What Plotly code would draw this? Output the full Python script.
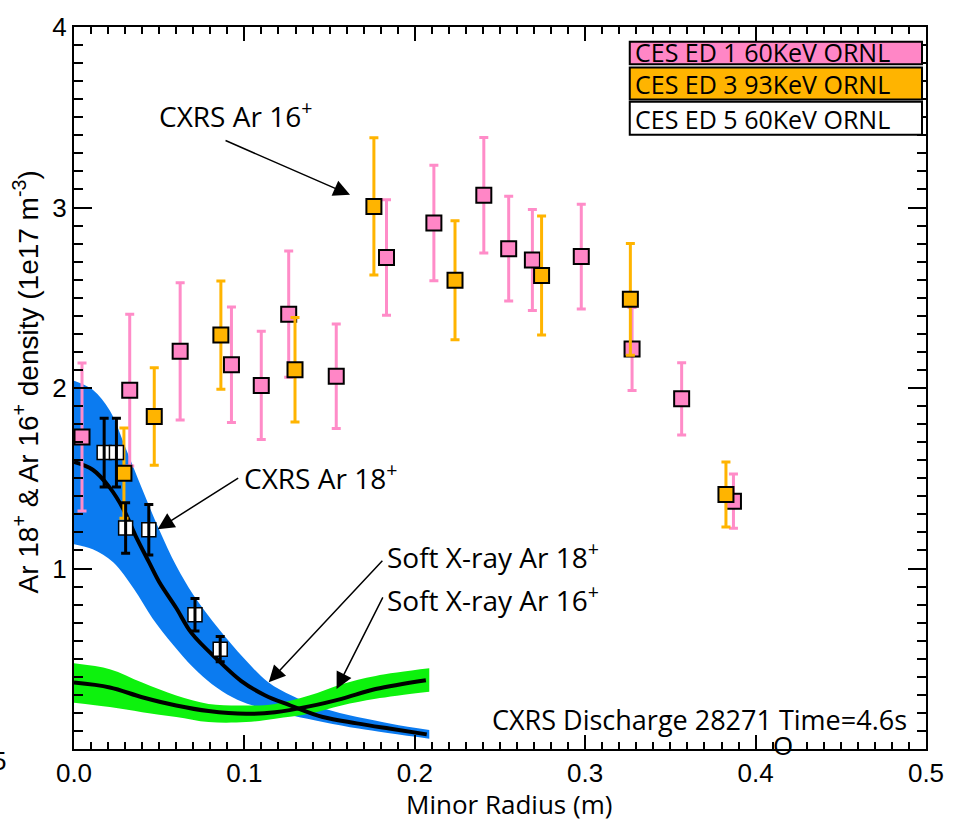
import plotly.graph_objects as go

# ---------------- data ----------------
# CES ED 1, 60 keV (ORNL) — Ar16+ density from CXRS
ed1_r = [0.0047, 0.0327, 0.0623, 0.0924, 0.1099, 0.1260, 0.1539, 0.1834, 0.2112,
         0.2405, 0.2551, 0.2690, 0.2977, 0.3275, 0.3566, 0.3870]
ed1_n = [1.729, 1.988, 2.203, 2.129, 2.014, 2.409, 2.065, 2.723, 2.914,
         3.068, 2.772, 2.709, 2.728, 2.216, 1.940, 1.373]
ed1_err = [0.41, 0.42, 0.38, 0.32, 0.30, 0.35, 0.29, 0.32, 0.32,
           0.32, 0.29, 0.28, 0.29, 0.23, 0.20, 0.15]

# CES ED 3, 93 keV (ORNL)
ed3_r = [0.0293, 0.0471, 0.0862, 0.1297, 0.1760, 0.2236, 0.2744, 0.3265, 0.3826]
ed3_n = [1.528, 1.842, 2.293, 2.101, 3.006, 2.597, 2.623, 2.491, 1.410]
ed3_err = [0.25, 0.27, 0.30, 0.29, 0.38, 0.33, 0.33, 0.31, 0.18]

# CES ED 5, 60 keV (ORNL) — Ar18+ density from CXRS
ed5_r = [0.0177, 0.0249, 0.0303, 0.0439, 0.0710, 0.0858]
ed5_n = [1.642, 1.642, 1.224, 1.215, 0.744, 0.553]
ed5_err = [0.19, 0.19, 0.14, 0.14, 0.09, 0.07]

# Soft X-ray Ar18+ profile with uncertainty band
sxr18_r = [0.0, 0.011, 0.021, 0.029, 0.036, 0.044, 0.050, 0.060, 0.069, 0.085,
           0.098, 0.112, 0.127, 0.146, 0.166, 0.185, 0.207]
sxr18_n = [1.59, 1.547, 1.448, 1.328, 1.184, 1.035, 0.925, 0.781, 0.642, 0.488,
           0.378, 0.298, 0.241, 0.177, 0.142, 0.113, 0.081]
sxr18_hi_r = [0.0, 0.011, 0.021, 0.030, 0.040, 0.050, 0.060, 0.070, 0.085, 0.100,
              0.114, 0.128, 0.147, 0.186, 0.2085]
sxr18_hi = [2.04, 1.99, 1.875, 1.675, 1.44, 1.215, 1.015, 0.855, 0.665, 0.50,
            0.37, 0.295, 0.223, 0.14, 0.105]
sxr18_lo_r = [0.0, 0.011, 0.023, 0.035, 0.046, 0.058, 0.070, 0.081, 0.093, 0.105,
              0.128, 0.167, 0.2085]
sxr18_lo = [1.135, 1.107, 1.035, 0.889, 0.725, 0.579, 0.451, 0.359, 0.287, 0.241,
            0.186, 0.113, 0.057]

# Soft X-ray Ar16+ profile with uncertainty band
sxr16_r = [0.0, 0.021, 0.040, 0.060, 0.079, 0.101, 0.118, 0.138, 0.157, 0.177, 0.2065]
sxr16_n = [0.368, 0.341, 0.287, 0.241, 0.210, 0.195, 0.204, 0.236, 0.278, 0.332, 0.381]
sxr16_hi = [0.475, 0.442, 0.368, 0.296, 0.250, 0.241, 0.250, 0.296, 0.359, 0.405, 0.447]
sxr16_lo = [0.256, 0.232, 0.204, 0.177, 0.149, 0.149, 0.168, 0.195, 0.241, 0.278, 0.317]
sxr16_band_r = [0.0, 0.021, 0.040, 0.060, 0.079, 0.101, 0.118, 0.138, 0.157, 0.177, 0.2085]

x_ticks = [0.0, 0.1, 0.2, 0.3, 0.4, 0.5]
x_ticktext = ["0.0", "0.1", "0.2", "0.3", "0.4", "0.5"]
y_ticks = [1, 2, 3, 4]
y_ticktext = ["1", "2", "3", "4"]

legend_labels = ["CES ED 1 60KeV ORNL", "CES ED 3 93KeV ORNL", "CES ED 5 60KeV ORNL"]

# ---------------- styles ----------------
PINK = "#FF86C6"
PINK_BAR = "#FF8CC8"
ORANGE = "#FFB400"
BLUE = "#0B7BF0"
GREEN = "#0DF20D"
TXT = "Open Sans"
NUM = "Liberation Sans"

fig = go.Figure()

# uncertainty bands
fig.add_trace(go.Scatter(x=sxr18_lo_r, y=sxr18_lo, mode="lines",
                         line=dict(width=0, shape="spline", color=BLUE),
                         hoverinfo="skip", showlegend=False))
fig.add_trace(go.Scatter(x=sxr18_hi_r, y=sxr18_hi, mode="lines", fill="tonexty",
                         fillcolor=BLUE, line=dict(width=0, shape="spline", color=BLUE),
                         hoverinfo="skip", showlegend=False))
fig.add_trace(go.Scatter(x=sxr16_band_r, y=sxr16_lo, mode="lines",
                         line=dict(width=0, shape="spline", color=GREEN),
                         hoverinfo="skip", showlegend=False))
fig.add_trace(go.Scatter(x=sxr16_band_r, y=sxr16_hi, mode="lines", fill="tonexty",
                         fillcolor=GREEN, line=dict(width=0, shape="spline", color=GREEN),
                         hoverinfo="skip", showlegend=False))

# central profiles
fig.add_trace(go.Scatter(x=sxr18_r, y=sxr18_n, mode="lines",
                         line=dict(width=4, shape="spline", color="black"),
                         name="Soft X-ray Ar 18+", showlegend=False))
fig.add_trace(go.Scatter(x=sxr16_r, y=sxr16_n, mode="lines",
                         line=dict(width=4, shape="spline", color="black"),
                         name="Soft X-ray Ar 16+", showlegend=False))

# CXRS points
fig.add_trace(go.Scatter(
    x=ed1_r, y=ed1_n, mode="markers", name=legend_labels[0], showlegend=False,
    marker=dict(symbol="square", size=15, color=PINK, line=dict(color="black", width=2)),
    error_y=dict(type="data", array=ed1_err, color=PINK_BAR, thickness=3, width=4.5)))
fig.add_trace(go.Scatter(
    x=ed3_r, y=ed3_n, mode="markers", name=legend_labels[1], showlegend=False,
    marker=dict(symbol="square", size=15, color=ORANGE, line=dict(color="black", width=2)),
    error_y=dict(type="data", array=ed3_err, color=ORANGE, thickness=3, width=4.5)))
fig.add_trace(go.Scatter(
    x=ed5_r, y=ed5_n, mode="markers", name=legend_labels[2], showlegend=False,
    marker=dict(symbol="square", size=14, color="white", line=dict(color="black", width=1.5))))
# ED 5 error bars are drawn over their markers
fig.add_trace(go.Scatter(
    x=ed5_r, y=ed5_n, mode="markers", showlegend=False, hoverinfo="skip",
    marker=dict(size=1, color="rgba(0,0,0,0)"),
    error_y=dict(type="data", array=ed5_err, color="black", thickness=3, width=4.5)))

# empty trace that carries the top/right tick axes
fig.add_trace(go.Scatter(x=[None], y=[None], xaxis="x2", yaxis="y2",
                         mode="markers", showlegend=False, hoverinfo="skip"))

# ---------------- axes ----------------
base = dict(showgrid=False, zeroline=False, ticks="inside", tickcolor="black", tickwidth=2)
x_minor = dict(ticks="inside", dtick=0.01, tick0=0, ticklen=7, tickwidth=1.5,
               tickcolor="black", showgrid=False)
y_minor = dict(ticks="inside", dtick=0.1, tick0=0, ticklen=9, tickwidth=1.5,
               tickcolor="black", showgrid=False)

fig.update_layout(
    xaxis=dict(range=[0, 0.5], tickmode="array", tickvals=x_ticks, ticktext=x_ticktext,
               ticklen=14, minor=x_minor, showline=True, linewidth=2, linecolor="black",
               mirror=True, tickfont=dict(family=NUM, size=26, color="black"), **base),
    yaxis=dict(range=[0, 4], tickmode="array", tickvals=y_ticks, ticktext=y_ticktext,
               ticklen=18, minor=y_minor, showline=True, linewidth=2, linecolor="black",
               mirror=True, tickfont=dict(family=NUM, size=26, color="black"), **base),
    xaxis2=dict(range=[0, 0.5], overlaying="x", side="top", anchor="y",
                tickmode="array", tickvals=x_ticks, showticklabels=False,
                ticklen=14, minor=x_minor, showline=False, **base),
    yaxis2=dict(range=[0, 4], overlaying="y", side="right", anchor="x",
                tickmode="array", tickvals=y_ticks, showticklabels=False,
                ticklen=18, minor=y_minor, showline=False, **base),
)

# ---------------- legend boxes ----------------
box_fill = [PINK, ORANGE, "white"]
box_y = [(0.9484, 0.9795), (0.8996, 0.9439), (0.8509, 0.8964)]
text_y = [0.9649, 0.9210, 0.8722]
shapes = []
annotations = []
for lab, fc, (y0, y1), ty in zip(legend_labels, box_fill, box_y, text_y):
    shapes.append(dict(type="rect", xref="paper", yref="paper", x0=0.6523, x1=0.9953,
                       y0=y0, y1=y1, fillcolor=fc, line=dict(color="black", width=2),
                       layer="above"))
    annotations.append(dict(xref="paper", yref="paper", x=0.6570, y=ty, text=lab,
                            showarrow=False, xanchor="left", yanchor="middle",
                            borderpad=0,
                            font=dict(family=TXT, size=25, color="black")))

# ---------------- labels & arrows ----------------
def label(x, y, text, size=28, xanchor="left"):
    annotations.append(dict(xref="paper", yref="paper", x=x, y=y, text=text,
                            showarrow=False, xanchor=xanchor, yanchor="middle",
                            font=dict(family=TXT, size=size, color="black")))

def arrow(x, y, ax, ay):
    annotations.append(dict(xref="x", yref="y", x=x, y=y, ax=ax, ay=ay, text="",
                            showarrow=True, arrowhead=2, arrowsize=2.2, arrowwidth=1.5,
                            arrowcolor="black", standoff=0))

label(0.0969, 0.8787, "CXRS Ar 16<sup>+</sup>")
arrow(0.1620, 3.070, -126, -55)
label(0.1972, 0.3780, "CXRS Ar 18<sup>+</sup>")
arrow(0.0491, 1.218, 82, -52)
label(0.3649, 0.2681, "Soft X-ray Ar 18<sup>+</sup>")
arrow(0.1143, 0.370, 115, -123)
label(0.3649, 0.2088, "Soft X-ray Ar 16<sup>+</sup>")
arrow(0.1541, 0.333, 47, -93)
label(0.9796, 0.0415, "CXRS Discharge 28271 Time=4.6s", size=27, xanchor="right")
label(0.8320, 0.0060, "O", size=26, xanchor="center")

# axis titles
annotations.append(dict(xref="paper", yref="paper", x=0.51, y=-0.0762,
                        text="Minor Radius (m)", showarrow=False,
                        xanchor="center", yanchor="middle",
                        font=dict(family=TXT, size=26, color="black")))
annotations.append(dict(xref="paper", yref="paper", x=-0.0560, y=0.508,
                        text="Ar 18<sup>+</sup> & Ar 16<sup>+</sup> density (1e17 m<sup>-3</sup>)",
                        showarrow=False, textangle=-90,
                        xanchor="center", yanchor="middle",
                        font=dict(family=NUM, size=28, color="black")))
annotations.append(dict(xref="paper", yref="paper", x=-0.077, y=-0.016, text="5",
                        showarrow=False, xanchor="right", yanchor="middle",
                        font=dict(family=NUM, size=26, color="black")))

fig.update_layout(width=956, height=821, margin=dict(l=74, r=25, t=18, b=72),
                  paper_bgcolor="white", plot_bgcolor="white",
                  showlegend=False, shapes=shapes, annotations=annotations)

fig.write_html("out.html")
